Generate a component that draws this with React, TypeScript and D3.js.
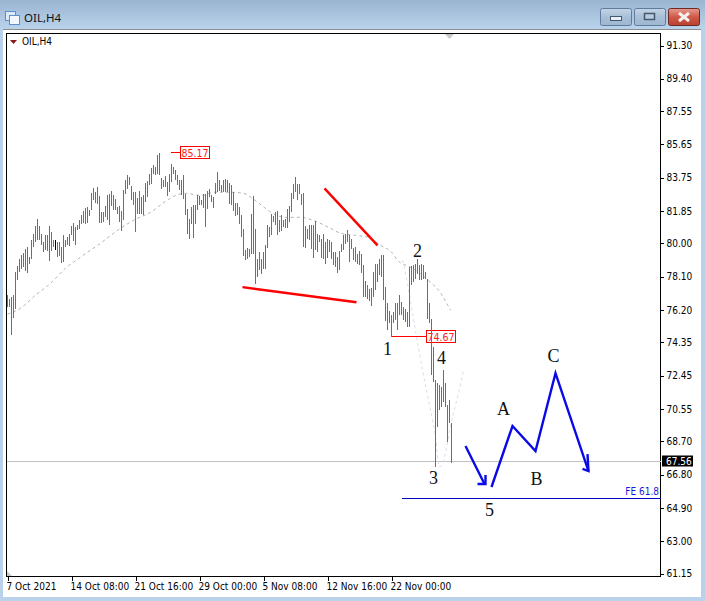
import React, { useRef, useEffect } from 'react';
import * as d3 from 'd3';

const barHighs = [
  77.04, 76.85, 76.95, 77.04, 78.37, 78.69, 79.09, 79.36, 79.45, 79.66, 79.78, 79.23, 80.18, 80.52, 80.98, 81.37, 80.98, 80.52, 80.08, 80.46,
  80.46, 80.98, 80.65, 80.18, 80.18, 80.08, 80.08, 79.80, 80.46, 80.18, 80.37, 80.56, 80.98, 81.18, 80.94, 81.07, 81.36, 81.60, 81.83, 82.04,
  82.08, 81.89, 82.88, 83.16, 82.93, 83.20, 82.71, 81.79, 81.79, 82.12, 82.78, 82.84, 82.97, 82.74, 82.52, 82.08, 82.14, 81.83, 83.07, 83.60,
  83.88, 83.79, 83.28, 82.93, 82.93, 82.59, 82.97, 82.65, 82.74, 83.45, 83.54, 83.94, 84.30, 84.45, 84.36, 85.02, 85.17, 83.73, 83.60, 83.83,
  83.50, 83.98, 84.51, 84.36, 84.17, 83.88, 83.60, 83.60, 83.88, 82.84, 81.98, 81.41, 82.08, 82.17, 82.21, 82.74, 82.71, 82.50, 82.84, 82.84,
  82.99, 83.09, 82.74, 82.65, 83.45, 84.06, 83.64, 83.31, 83.64, 83.68, 83.64, 83.45, 83.31, 82.93, 82.31, 82.31, 82.08, 81.60, 80.80, 79.65,
  79.76, 79.66, 81.66, 82.69, 80.81, 79.13, 79.51, 79.13, 79.51, 79.89, 81.03, 80.94, 81.70, 81.55, 81.79, 81.83, 81.32, 81.60, 81.32, 81.41,
  81.95, 82.12, 82.88, 83.41, 83.79, 83.37, 83.37, 82.84, 82.88, 80.98, 80.84, 81.03, 81.07, 81.03, 81.26, 80.56, 80.46, 80.27, 80.56, 80.08,
  80.27, 80.18, 80.08, 79.51, 79.51, 79.23, 79.55, 79.95, 80.46, 80.56, 80.75, 80.50, 80.27, 79.76, 79.80, 79.42, 79.55, 79.42, 78.75, 77.86,
  77.61, 77.42, 77.46, 78.37, 78.81, 78.85, 79.13, 79.32, 79.32, 77.52, 76.57, 76.15, 75.90, 76.09, 76.57, 76.57, 77.04, 76.66, 76.38, 76.28,
  76.09, 78.66, 78.70, 78.76, 78.81, 79.13, 78.76, 78.85, 78.76, 78.37, 77.99, 76.57, 75.66, 74.10, 72.19, 72.02, 71.91, 71.79, 72.76, 72.02,
  70.77, 71.05, 69.74,
];

const barLows = [
  76.38, 76.34, 74.76, 75.75, 76.24, 77.90, 78.37, 78.56, 78.66, 78.43, 78.29, 78.81, 79.13, 79.80, 80.08, 80.18, 80.22, 79.89, 79.51, 79.61,
  79.55, 78.98, 79.57, 79.80, 79.61, 79.23, 79.28, 78.88, 78.92, 79.80, 79.89, 79.83, 80.46, 80.12, 79.89, 80.79, 80.84, 81.09, 81.17, 81.13,
  81.17, 81.56, 81.93, 82.46, 82.33, 82.27, 81.18, 81.18, 81.22, 81.51, 81.36, 81.03, 82.14, 81.89, 81.93, 81.66, 81.22, 80.69, 81.32, 82.84,
  83.12, 83.31, 82.46, 82.17, 80.65, 81.70, 81.70, 81.70, 81.60, 82.36, 82.65, 83.31, 83.41, 83.98, 83.88, 83.94, 83.88, 83.12, 83.22, 83.22,
  82.69, 82.93, 83.50, 83.98, 83.60, 83.31, 83.07, 82.78, 82.55, 81.60, 80.52, 80.23, 81.13, 80.33, 81.13, 81.93, 82.17, 82.21, 82.04, 80.94,
  81.98, 82.65, 82.36, 82.04, 82.84, 82.93, 82.99, 82.93, 82.93, 82.93, 82.93, 82.27, 82.17, 81.83, 81.56, 81.60, 81.13, 80.37, 79.26, 79.04,
  79.13, 79.23, 79.42, 79.42, 77.67, 78.09, 78.47, 78.24, 78.52, 78.52, 79.76, 80.37, 80.46, 81.22, 81.03, 80.50, 80.65, 80.69, 80.94, 80.90,
  80.90, 81.22, 81.79, 82.55, 82.93, 82.50, 82.84, 82.17, 79.80, 79.76, 80.23, 80.18, 79.70, 79.19, 79.61, 79.51, 80.08, 79.19, 79.13, 78.85,
  79.19, 79.51, 79.13, 78.75, 78.66, 78.31, 78.47, 79.51, 79.61, 79.95, 80.08, 78.94, 79.70, 79.04, 78.94, 78.81, 78.75, 78.30, 76.95, 76.95,
  76.80, 76.70, 76.42, 76.95, 77.33, 77.80, 78.18, 78.09, 76.76, 75.58, 75.05, 75.43, 74.67, 75.43, 75.62, 75.05, 75.90, 75.90, 75.62, 75.52,
  75.20, 75.20, 77.61, 77.80, 77.99, 78.28, 77.90, 77.90, 77.99, 77.99, 75.71, 75.43, 72.48, 72.10, 67.23, 69.51, 70.48, 70.65, 70.94, 70.65,
  68.65, 69.74, 67.46,
];

// slow average, [bar index, price]
const maLine: [number, number][] = [
  [0, 75.96], [6.5, 76.30], [14, 77.04], [21.5, 77.72], [29, 78.58], [36.5, 79.21], [46.5, 80.01], [56.5, 80.86], [64, 81.38],
  [71.5, 81.77], [79, 82.40], [85.5, 82.80], [89, 82.86], [96.5, 82.74], [104, 82.92], [111.5, 82.92], [118, 82.86], [123, 82.52],
  [129, 82.00], [132.5, 81.72], [139, 81.49], [146.5, 81.49], [154, 81.26], [161.5, 80.86], [166.5, 80.58], [174, 80.46], [180.5, 80.35],
  [186.5, 79.89], [192.5, 79.44], [195, 79.04], [202.5, 78.58], [211.5, 77.78], [215.5, 77.33], [221.5, 76.18],
];

const fastLine: [number, number][] = [
  [197.5, 79.04], [199, 78.30], [202.5, 76.01], [205.5, 74.02], [207.5, 72.76], [210.5, 71.05], [214, 68.94], [216, 67.23],
  [217.5, 67.46], [222.5, 70.08], [225, 71.22], [228, 72.76],
];

const trendUpper: [number, number][] = [[158.5, 83.14], [185, 79.89]];
const trendLower: [number, number][] = [[117.5, 77.50], [174.5, 76.64]];

const waveDown: [number, number][] = [[229, 68.43], [238.5, 66.26]];
const waveDownHead: [number, number][] = [[235, 66.26], [239, 66.26], [239, 66.77]];
const waveAbc: [number, number][] = [[242, 66.09], [252.5, 69.57], [264, 68.14], [274, 72.59], [290.5, 67.00]];
const waveAbcHead: [number, number][] = [[287.5, 67.12], [290.5, 67.00], [290, 67.97]];

const waveLabels: [string, number, number][] = [
  ['1', 190, 73.65], ['2', 205, 79.21], ['3', 213, 66.26], ['4', 217, 73.1], ['5', 241, 64.46],
  ['A', 248, 70.22], ['B', 264.5, 66.22], ['C', 273, 73.22],
];

const priceTicks = [91.3, 89.4, 87.55, 85.65, 83.75, 81.85, 80.0, 78.1, 76.2, 74.35, 72.45, 70.55, 68.7, 66.8, 64.9, 63.0, 61.15];
const timeTicks = [0, 32, 64, 96, 128, 160, 192];
const timeLabels = ['7 Oct 2021', '14 Oct 08:00', '21 Oct 16:00', '29 Oct 00:00', '5 Nov 08:00', '12 Nov 16:00', '22 Nov 00:00'];

const lastPrice = 67.56;
const fibPrice = 65.45;
const fibStartBar = 197;
const highMark = { bar: 81.5, value: 85.17 };
const lowMark = { bar: 192, value: 74.67 };

const font = '"DejaVu Sans Condensed", "Liberation Sans", sans-serif';

const App: React.FC = () => {
  const svgRef = useRef<SVGSVGElement>(null);

  useEffect(() => {
    if (!svgRef.current) return;
    const svg = d3.select(svgRef.current);
    svg.selectAll('*').remove();

    const left = 6.5, right = 660.5, top = 33.5, bottom = 576.5;
    const x = d3.scaleLinear().domain([0, 222]).range([7.5, 451.5]);
    const y = d3.scaleLinear().domain([61.15, 91.3]).range([573.5, 45.5]);
    const line = d3.line<[number, number]>().x(d => x(d[0])).y(d => y(d[1]));

    // window chrome
    const defs = svg.append('defs');
    const grad = defs.append('linearGradient').attr('id', 'title').attr('x1', 0).attr('x2', 0).attr('y1', 0).attr('y2', 1);
    grad.append('stop').attr('offset', 0).attr('stop-color', '#9ab5d1');
    grad.append('stop').attr('offset', 1).attr('stop-color', '#bad3ec');
    const btn = defs.append('linearGradient').attr('id', 'btn').attr('x1', 0).attr('x2', 0).attr('y1', 0).attr('y2', 1);
    btn.append('stop').attr('offset', 0).attr('stop-color', '#c4d4e6');
    btn.append('stop').attr('offset', 0.5).attr('stop-color', '#a9bfd6');
    btn.append('stop').attr('offset', 1).attr('stop-color', '#9fb7d2');
    const close = defs.append('linearGradient').attr('id', 'close').attr('x1', 0).attr('x2', 0).attr('y1', 0).attr('y2', 1);
    close.append('stop').attr('offset', 0).attr('stop-color', '#e69a8e');
    close.append('stop').attr('offset', 0.5).attr('stop-color', '#cf5a48');
    close.append('stop').attr('offset', 1).attr('stop-color', '#b8402f');

    svg.append('rect').attr('width', 705).attr('height', 601).attr('fill', '#b9d1ea');
    svg.append('rect').attr('width', 705).attr('height', 29).attr('fill', 'url(#title)');
    svg.append('rect').attr('x', 3).attr('y', 29).attr('width', 698).attr('height', 568).attr('fill', '#ffffff');
    svg.append('rect').attr('x', 3).attr('y', 29).attr('width', 698).attr('height', 1).attr('fill', '#8d8d8d');

    const icon = svg.append('g').attr('shape-rendering', 'crispEdges');
    icon.append('rect').attr('x', 5.5).attr('y', 11.5).attr('width', 10).attr('height', 9).attr('fill', '#dbe9f8').attr('stroke', '#5b8fd0');
    icon.append('rect').attr('x', 9.5).attr('y', 15.5).attr('width', 10).attr('height', 9).attr('fill', '#f2f7fd').attr('stroke', '#5b8fd0');

    svg.append('text').attr('x', 24).attr('y', 22).attr('font-family', '"Noto Sans", sans-serif').attr('font-size', 11.5).attr('fill', '#101010').text('OIL,H4');

    const buttons = [[600.5, 31, 'url(#btn)', '#5f7c9c'], [634.5, 31, 'url(#btn)', '#5f7c9c'], [668.5, 31, 'url(#close)', '#6e2a22']] as const;
    buttons.forEach(([bx, w, fill, stroke]) => {
      svg.append('rect').attr('x', bx).attr('y', 8.5).attr('width', w).attr('height', 17).attr('rx', 2).attr('fill', fill).attr('stroke', stroke);
    });
    svg.append('rect').attr('x', 610.5).attr('y', 16.5).attr('width', 11).attr('height', 4).attr('fill', '#e8eef5').attr('stroke', '#44586e');
    svg.append('rect').attr('x', 644.5).attr('y', 13.5).attr('width', 10).attr('height', 6).attr('fill', '#b9cbdf').attr('stroke', '#44586e').attr('stroke-width', 1.5);
    svg.append('path').attr('d', 'M679 13 L689 21 M689 13 L679 21').attr('stroke', '#f4f0ee').attr('stroke-width', 3);

    // plot frame and axes
    const axisFont = (g: d3.Selection<SVGGElement, unknown, null, undefined>) => {
      g.selectAll('.domain').remove();
      g.selectAll('line').attr('stroke', '#000').attr('shape-rendering', 'crispEdges');
      g.selectAll('text').attr('font-family', font).attr('font-size', 10).attr('fill', '#000');
    };

    svg.append('g').attr('transform', `translate(${right},0)`)
      .call(d3.axisRight(y).tickValues(priceTicks).tickFormat(d3.format('.2f')).tickSize(3).tickPadding(3))
      .call(axisFont);

    const timeAxis = svg.append('g').attr('transform', `translate(0,${bottom})`)
      .call(d3.axisBottom(x).tickValues(timeTicks).tickFormat((_, i) => timeLabels[i]).tickSize(4).tickPadding(3))
      .call(axisFont);
    timeAxis.selectAll('text').attr('text-anchor', 'start').attr('dx', -1.5).attr('dy', '0.6em');

    svg.append('rect').attr('x', left).attr('y', top).attr('width', right - left).attr('height', bottom - top)
      .attr('fill', 'none').attr('stroke', '#000').attr('shape-rendering', 'crispEdges');

    svg.append('path').attr('d', 'M7 571 L12 576 L7 576 Z').attr('fill', '#c8c8c8');
    svg.append('path').attr('d', 'M445 34 L454 34 L449.5 39 Z').attr('fill', '#c8c8c8');
    svg.append('path').attr('d', 'M10 40 L17 40 L13.5 44 Z').attr('fill', '#8b1a1a');
    svg.append('text').attr('x', 22).attr('y', 45).attr('font-family', font).attr('font-size', 10).attr('fill', '#000').text('OIL,H4');

    // price lines
    svg.append('line').attr('x1', left).attr('x2', right).attr('y1', y(lastPrice)).attr('y2', y(lastPrice))
      .attr('stroke', '#c0c0c0').attr('shape-rendering', 'crispEdges');
    svg.append('line').attr('x1', x(fibStartBar)).attr('x2', right).attr('y1', y(fibPrice)).attr('y2', y(fibPrice))
      .attr('stroke', '#0000c8').attr('shape-rendering', 'crispEdges');
    svg.append('text').attr('x', 659).attr('y', y(fibPrice) - 3).attr('text-anchor', 'end')
      .attr('font-family', font).attr('font-size', 10).attr('fill', '#1a1ae0').text('FE 61.8');

    // averages
    svg.append('path').attr('d', line.curve(d3.curveMonotoneX)(fastLine)).attr('fill', 'none')
      .attr('stroke', '#dcdcf0').attr('stroke-dasharray', '3 3');
    svg.append('path').attr('d', line(maLine)).attr('fill', 'none')
      .attr('stroke', '#b4b4b4').attr('stroke-dasharray', '3 3');
    line.curve(d3.curveLinear);

    // high / low marks, under the bars
    const marks = [
      { ...highMark, x0: x(highMark.bar), boxX: 180.5, boxW: 29 },
      { ...lowMark, x0: x(lowMark.bar), boxX: 426.5, boxW: 29 },
    ];
    marks.forEach(m => {
      const my = y(m.value);
      svg.append('line').attr('x1', m.x0).attr('x2', m.boxX).attr('y1', my).attr('y2', my)
        .attr('stroke', '#ff0000').attr('shape-rendering', 'crispEdges');
      svg.append('rect').attr('x', m.boxX).attr('y', Math.round(my) - 6.5).attr('width', m.boxW).attr('height', 12)
        .attr('fill', '#fff').attr('stroke', '#ff0000').attr('shape-rendering', 'crispEdges');
      svg.append('text').attr('x', m.boxX + m.boxW / 2).attr('y', Math.round(my) + 3.5).attr('text-anchor', 'middle')
        .attr('font-family', font).attr('font-size', 10.5).attr('fill', '#ff2020').text(m.value.toFixed(2));
    });

    // high-low bars
    svg.append('g').attr('shape-rendering', 'crispEdges')
      .selectAll('line')
      .data(barHighs)
      .join('line')
      .attr('x1', (_, i) => x(i))
      .attr('x2', (_, i) => x(i))
      .attr('y1', d => y(d))
      .attr('y2', (_, i) => y(barLows[i]))
      .attr('stroke', (_, i) => (i === 24 ? '#000' : '#6e6e6e'));

    // hand-drawn trend lines and wave count
    [trendUpper, trendLower].forEach(t => {
      svg.append('path').attr('d', line(t)).attr('fill', 'none').attr('stroke', '#ff0000').attr('stroke-width', 2.4);
    });
    [waveDown, waveDownHead, waveAbc, waveAbcHead].forEach(w => {
      svg.append('path').attr('d', line(w)).attr('fill', 'none').attr('stroke', '#0a0ae6').attr('stroke-width', 2.4);
    });

    svg.append('g').selectAll('text').data(waveLabels).join('text')
      .attr('x', d => x(d[1]))
      .attr('y', d => y(d[2]))
      .attr('text-anchor', 'middle')
      .attr('font-family', '"Liberation Serif", serif')
      .attr('font-size', 18)
      .attr('fill', '#111')
      .text(d => d[0]);

    // last price tag
    svg.append('rect').attr('x', 662).attr('y', Math.round(y(lastPrice)) - 5.5).attr('width', 31).attr('height', 11).attr('fill', '#000');
    svg.append('text').attr('x', 666).attr('y', y(lastPrice) + 4).attr('font-family', font).attr('font-size', 10).attr('fill', '#fff').text(lastPrice.toFixed(2));
  }, []);

  return <svg ref={svgRef} width={705} height={601} style={{ position: 'absolute', left: 0, top: 0, display: 'block' }}></svg>;
};

export default App;
